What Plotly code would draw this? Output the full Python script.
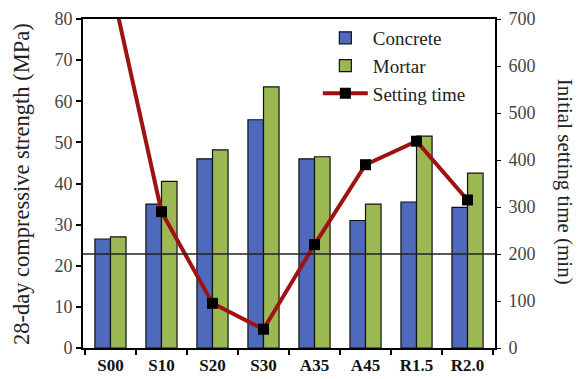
import plotly.graph_objects as go

categories = ["S00", "S10", "S20", "S30", "A35", "A45", "R1.5", "R2.0"]
concrete = [26.5, 35.0, 46.0, 55.5, 46.0, 31.0, 35.5, 34.2]
mortar = [27.0, 40.5, 48.2, 63.5, 46.5, 35.0, 51.5, 42.5]
setting_time = [780, 290, 95, 40, 220, 390, 440, 315]
ref_line_min = 200

font_family = "Liberation Serif, Times New Roman, serif"

fig = go.Figure()
fig.add_trace(go.Bar(x=categories, y=concrete, name="Concrete", legendgroup="a",
                     marker=dict(color="#4f69bd", line=dict(color="#111111", width=1.2))))
fig.add_trace(go.Bar(x=categories, y=mortar, name="Mortar", legendgroup="b",
                     marker=dict(color="#9bb853", line=dict(color="#111111", width=1.2))))
fig.add_trace(go.Scatter(x=categories, y=setting_time, name="Setting time", yaxis="y2",
                         legendgroup="c", mode="lines+markers", cliponaxis=True,
                         line=dict(color="#9e1212", width=4),
                         marker=dict(symbol="square", size=11, color="#000000")))

fig.add_shape(type="line", xref="paper", x0=0, x1=1, yref="y2", y0=ref_line_min, y1=ref_line_min,
              line=dict(color="#222222", width=1.3), layer="above")

fig.add_annotation(text="Initial setting time (min)", textangle=90, xref="paper", yref="paper",
                   x=1.17, y=0.505, xanchor="center", yanchor="middle", showarrow=False,
                   font=dict(family=font_family, size=21, color="#222222"))
fig.add_annotation(text="28-day compressive strength (MPa)", textangle=-90, xref="paper", yref="paper",
                   x=-0.149, y=0.497, xanchor="center", yanchor="middle", showarrow=False,
                   font=dict(family=font_family, size=22.5, color="#222222"))

# page body has an 8px default margin, so the figure is sized/margined to compensate
fig.update_layout(
    width=573, height=371,
    margin=dict(l=75, r=86, t=11, b=31),
    paper_bgcolor="white", plot_bgcolor="white",
    font=dict(family=font_family, size=15, color="#222222"),
    barmode="group", bargap=0.39, bargroupgap=0,
    showlegend=True,
    legend=dict(x=0.57, y=1.0, xanchor="left", yanchor="top", bgcolor="rgba(0,0,0,0)",
                font=dict(family=font_family, size=19, color="#222222"),
                itemwidth=45, tracegroupgap=0),
    xaxis=dict(type="category", showline=True, linecolor="black", linewidth=2, mirror=True,
               ticks="outside", tickson="boundaries", ticklen=5, tickcolor="black", tickwidth=2,
               ticklabelstandoff=1,
               tickfont=dict(family=font_family, size=17, color="#111111", weight="bold"),
               showgrid=False, zeroline=False, automargin=False),
    yaxis=dict(range=[0, 80], dtick=10, showline=True, linecolor="black", linewidth=2,
               ticks="outside", ticklen=5, tickcolor="black", tickwidth=2, showgrid=False, zeroline=False,
               automargin=False,
               tickfont=dict(family=font_family, size=18, color="#444444")),
    yaxis2=dict(range=[0, 700], dtick=100, overlaying="y", side="right", showline=True,
                linecolor="black", linewidth=2, ticks="outside", ticklen=4, tickcolor="black",
                ticklabelstandoff=4,
                showgrid=False, zeroline=False, automargin=False,
                tickfont=dict(family=font_family, size=18, color="#444444")),
)

fig.write_html("out.html")
